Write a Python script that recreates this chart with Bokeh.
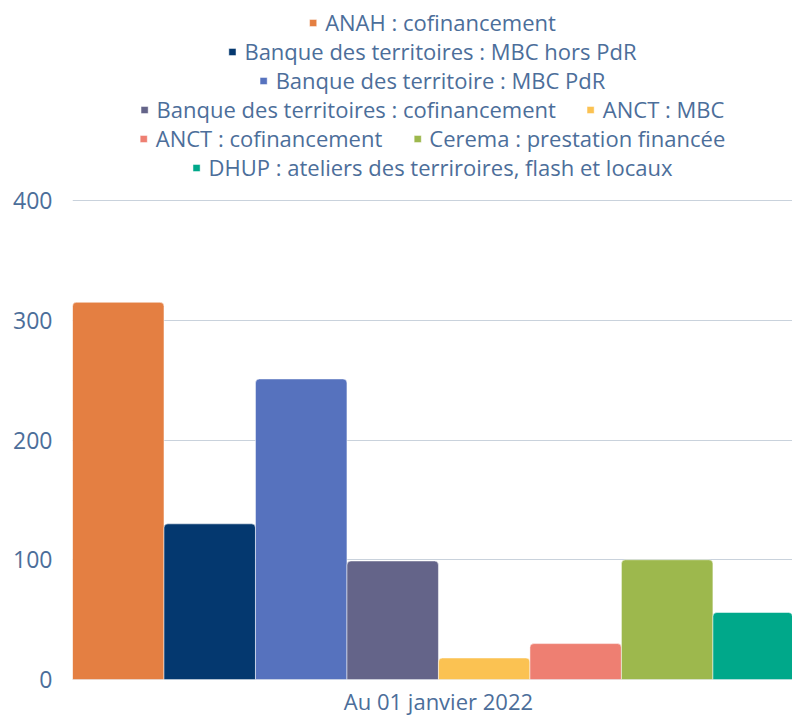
from bokeh.plotting import figure
from bokeh.models import (ColumnDataSource, Legend, LegendItem, Range1d,
                          FixedTicker, Label)
from bokeh.embed import file_html
from bokeh.resources import INLINE

series = [
    "ANAH : cofinancement",
    "Banque des territoires : MBC hors PdR",
    "Banque des territoire : MBC PdR",
    "Banque des territoires : cofinancement",
    "ANCT : MBC",
    "ANCT : cofinancement",
    "Cerema : prestation financée",
    "DHUP : ateliers des terriroires, flash et locaux",
]
values = [315, 130, 251, 99, 18, 30, 100, 56]
colors = ["#E47F42", "#04386F", "#5672BE", "#646489",
          "#FBC252", "#EE7F72", "#9DB84D", "#00A88A"]
category = "Au 01 janvier 2022"
category_x = 4
y_ticks = [0, 100, 200, 300, 400]
legend_rows = [[0], [1], [2], [3, 4], [5, 6], [7]]
legend_offsets = [7, 36, 65, 94, 123, 152]   # px from top of the frame

TEXT = "#4C6E9A"
FONT = "Open Sans"

src = ColumnDataSource(dict(
    x=[i + 0.5 for i in range(len(values))],
    top=values,
    color=colors,
    name=series,
))

# frame spans the whole height; the space below 0 holds the category label
p = figure(width=792, height=717, output_backend="svg", toolbar_location=None,
           x_range=Range1d(0, 7.87), y_range=Range1d(-31.7, 567),
           min_border_left=72, min_border_right=0, min_border_bottom=0,
           min_border_top=0)
p.outline_line_color = None

r = p.vbar(x="x", top="top", bottom=0, width=1.0, source=src, fill_color="color",
           line_color="white", line_width=1, line_alpha=0.5,
           border_radius=(4, 4, 0, 0))

for row, off in zip(legend_rows, legend_offsets):
    lg = Legend(items=[LegendItem(label=series[i], renderers=[r], index=i) for i in row],
                orientation="horizontal", location="top_center",
                border_line_color=None, background_fill_alpha=0,
                label_text_font=FONT, label_text_font_size="22px",
                label_text_color=TEXT, glyph_width=9, glyph_height=9,
                spacing=30, padding=0, margin=off, label_standoff=8,
                label_height=24)
    p.add_layout(lg, "center")

p.xaxis.visible = False
p.add_layout(Label(x=category_x, y=17, y_units="screen", text=category,
                   text_align="center", text_baseline="middle",
                   text_font=FONT, text_font_size="22px", text_color=TEXT))

p.yaxis.ticker = FixedTicker(ticks=y_ticks)
p.yaxis.axis_line_color = None
p.yaxis.major_tick_line_color = None
p.yaxis.major_tick_out = 0
p.yaxis.major_tick_in = 0
p.yaxis.minor_tick_line_color = None
p.yaxis.major_label_text_font = FONT
p.yaxis.major_label_text_font_size = "23px"
p.yaxis.major_label_text_color = TEXT
p.yaxis.major_label_standoff = 20

p.xgrid.grid_line_color = None
p.ygrid.grid_line_color = "#C9D2DC"
p.ygrid.grid_line_width = 1

open("out.html", "w").write(file_html(p, INLINE))
